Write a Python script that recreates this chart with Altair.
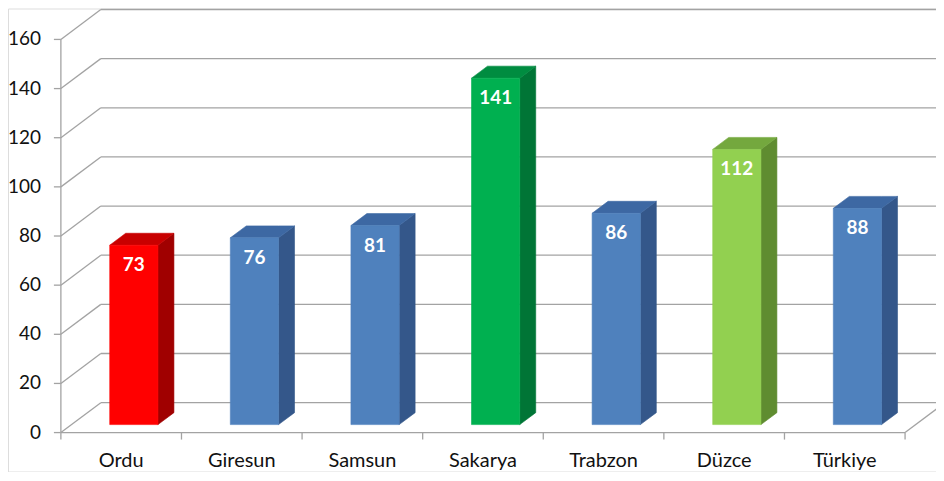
import altair as alt
import pandas as pd

# ---- data ----
categories = ["Ordu", "Giresun", "Samsun", "Sakarya", "Trabzon", "Düzce", "Türkiye"]
values = [73, 76, 81, 141, 86, 112, 88]
y_ticks = [0, 20, 40, 60, 80, 100, 120, 140, 160]

# ---- styles ----
front_colors = ["#FF0000", "#4F81BD", "#4F81BD", "#00B050", "#4F81BD", "#92D050", "#4F81BD"]
top_colors = ["#C80000", "#3D68A3", "#3D68A3", "#008C40", "#3D68A3", "#74A83E", "#3D68A3"]
side_colors = ["#A00000", "#34578A", "#34578A", "#007536", "#34578A", "#5F8C30", "#34578A"]
GRID = "#A3A3A3"
FONT = "Lato"

# ---- geometry (pixels of the view) ----
W, H = 930, 464
X0, X1 = 53, 899      # floor front edge, category 0 .. 7
Y0, Y1 = 425, 31      # value 0 .. 160 on the front plane
PX_X = (X1 - X0) / 7
PX_Y = (Y0 - Y1) / 160
WALL_DX = 40 / PX_X   # depth of the 3-D box in category units
WALL_DY = 30 / PX_Y   # depth of the 3-D box in value units
FRONT_F = 8 / 30      # bar front plane as a fraction of depth
BAR_F = 12 / 30       # bar depth as a fraction of depth
BAR_L, BAR_R = 0.405 - FRONT_F * WALL_DX, 0.805 - FRONT_F * WALL_DX

xs = alt.Scale(domain=[0, 7], range=[X0, X1], nice=False, zero=False)
ys = alt.Scale(domain=[0, 160], range=[Y0, Y1], nice=False, zero=False)


def enc_xy(two=True):
    e = dict(x=alt.X("x:Q", scale=xs, axis=None), y=alt.Y("y:Q", scale=ys, axis=None))
    if two:
        e["x2"] = alt.X2("x2:Q")
        e["y2"] = alt.Y2("y2:Q")
    return e


# grid lines: back wall horizontals and left wall diagonals
grid_rows = []
for t in y_ticks:
    grid_rows.append(dict(x=WALL_DX, x2=7 + WALL_DX + 0.5, y=t + WALL_DY, y2=t + WALL_DY))
    grid_rows.append(dict(x=0, x2=WALL_DX, y=t, y2=t + WALL_DY))
# floor front edge, right floor edge, front axis
grid_rows.append(dict(x=0, x2=7, y=0, y2=0))
grid_rows.append(dict(x=7, x2=7 + WALL_DX, y=0, y2=WALL_DY))
grid_rows.append(dict(x=0, x2=0, y=0, y2=y_ticks[-1]))
# y ticks
for t in y_ticks:
    grid_rows.append(dict(x=-7 / PX_X, x2=0, y=t, y2=t))
# category ticks
for k in range(len(categories) + 1):
    grid_rows.append(dict(x=k, x2=k, y=0, y2=-7 / PX_Y))
grid_df = pd.DataFrame(grid_rows)

grid = alt.Chart(grid_df).mark_rule(color=GRID, strokeWidth=1.3).encode(**enc_xy())

# bars
fdx, fdy = FRONT_F * WALL_DX, FRONT_F * WALL_DY
bdx, bdy = BAR_F * WALL_DX, BAR_F * WALL_DY
front_rows, side_rows, top_rows, lab_rows = [], [], [], []
for i, (c, v) in enumerate(zip(categories, values)):
    xl = i + BAR_L + fdx
    xr = i + BAR_R + fdx
    yb = fdy
    yt = v + fdy
    front_rows.append(dict(cf=c, x=xl, x2=xr, y=yb, y2=yt))
    side_rows += [dict(cs=c, x=xr, y=yt, y2=yb),
                  dict(cs=c, x=xr + bdx, y=yt + bdy, y2=yb + bdy)]
    top_rows += [dict(ct=c, x=xl, y=yt, y2=yt),
                 dict(ct=c, x=xl + bdx, y=yt, y2=yt + bdy),
                 dict(ct=c, x=xr, y=yt, y2=yt + bdy),
                 dict(ct=c, x=xr + bdx, y=yt + bdy, y2=yt + bdy)]
    lab_rows.append(dict(x=(xl + xr) / 2, y=yt, label=str(v)))

front_df = pd.DataFrame(front_rows)
side_df = pd.DataFrame(side_rows)
top_df = pd.DataFrame(top_rows)
lab_df = pd.DataFrame(lab_rows)


def cscale(cols):
    return alt.Scale(domain=categories, range=cols)


side = alt.Chart(side_df).mark_area(orient="vertical", strokeWidth=0.6).encode(
    x=alt.X("x:Q", scale=xs, axis=None), y=alt.Y("y:Q", scale=ys, axis=None), y2="y2:Q",
    fill=alt.Fill("cs:N", scale=cscale(side_colors), legend=None),
    stroke=alt.Stroke("cs:N", scale=cscale(side_colors), legend=None),
    detail="cs:N")

top = alt.Chart(top_df).mark_area(orient="vertical", strokeWidth=0.6).encode(
    x=alt.X("x:Q", scale=xs, axis=None), y=alt.Y("y:Q", scale=ys, axis=None), y2="y2:Q",
    fill=alt.Fill("ct:N", scale=cscale(top_colors), legend=None),
    stroke=alt.Stroke("ct:N", scale=cscale(top_colors), legend=None),
    detail="ct:N")

front = alt.Chart(front_df).mark_rect(strokeWidth=0.6).encode(
    **enc_xy(),
    fill=alt.Fill("cf:N", scale=cscale(front_colors), legend=None),
    stroke=alt.Stroke("cf:N", scale=cscale(front_colors), legend=None))

vlabels = alt.Chart(lab_df).mark_text(
    font=FONT, fontSize=19, fontWeight="bold", color="white", baseline="middle", dy=20
).encode(x=alt.X("x:Q", scale=xs, axis=None), y=alt.Y("y:Q", scale=ys, axis=None), text="label:N")

ytick_df = pd.DataFrame({"x": [0] * len(y_ticks), "y": y_ticks, "label": [str(t) for t in y_ticks]})
ylabels = alt.Chart(ytick_df).mark_text(
    font=FONT, fontSize=19, color="#111111", align="right", baseline="middle", dx=-20
).encode(x=alt.X("x:Q", scale=xs, axis=None), y=alt.Y("y:Q", scale=ys, axis=None), text="label:N")

cat_df = pd.DataFrame({"x": [i + 0.5 for i in range(len(categories))], "y": [0] * len(categories),
                       "label": categories})
xlabels = alt.Chart(cat_df).mark_text(
    font=FONT, fontSize=20, color="#111111", align="center", baseline="middle", dy=28
).encode(x=alt.X("x:Q", scale=xs, axis=None), y=alt.Y("y:Q", scale=ys, axis=None), text="label:N")

chart = alt.layer(grid, side, top, front, vlabels, ylabels, xlabels).resolve_scale(
    fill="independent", stroke="independent"
).properties(
    width=W, height=H, autosize="none", padding=0
).configure_view(stroke=None).configure(background="white")

chart.save("out.html", embed_options={"renderer": "svg", "actions": False})
